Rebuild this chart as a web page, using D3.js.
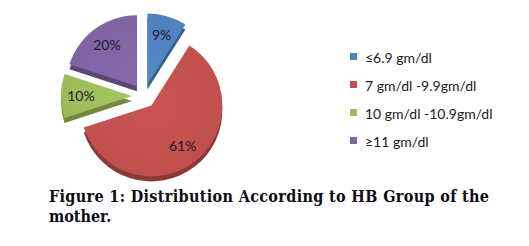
<!DOCTYPE html>
<html>
<head>
<meta charset="utf-8">
<script src="https://cdn.jsdelivr.net/npm/d3@7"></script>
<style>
  body { margin: 0; background: #fff; }
</style>
</head>
<body>
<svg id="chart" width="529" height="246"></svg>
<script>
var categories = ['\u22646.9 gm/dl', '7 gm/dl -9.9gm/dl', '10 gm/dl -10.9gm/dl', '\u226511 gm/dl'];
var values = [9, 61, 10, 20];
var colors = ['#4f81bd', '#c0504d', '#9bbb59', '#8064a2'];
var darkColors = ['#385d8a', '#8c3836', '#71893f', '#5c4776'];

var svg = d3.select('#chart');
var cx = 144, cy = 96, radius = 71, explode = 12;

var pie = d3.pie().sort(null).value(function(d) { return d; });
var arcs = pie(values);

var arc = d3.arc().innerRadius(0).outerRadius(radius);
var labelArc = d3.arc().innerRadius(radius * 0.72).outerRadius(radius * 0.72);

function offset(d) {
  var a = (d.startAngle + d.endAngle) / 2;
  return [Math.sin(a) * explode, -Math.cos(a) * explode];
}

var defs = svg.append('defs');
colors.forEach(function(c, i) {
  var g = defs.append('radialGradient')
    .attr('id', 'grad' + i)
    .attr('gradientUnits', 'userSpaceOnUse')
    .attr('cx', 0).attr('cy', 0).attr('r', radius);
  g.append('stop').attr('offset', '0%').attr('stop-color', d3.color(c).brighter(0.15));
  g.append('stop').attr('offset', '100%').attr('stop-color', c);
});

var pieGroup = svg.append('g')
  .attr('transform', 'translate(' + cx + ',' + cy + ')');

// side / depth of the slices
pieGroup.selectAll('path.depth')
  .data(arcs)
  .enter()
  .append('path')
    .attr('class', 'depth')
    .attr('d', arc)
    .attr('fill', function(d, i) { return darkColors[i]; })
    .attr('transform', function(d) {
      var o = offset(d);
      return 'translate(' + o[0] + ',' + (o[1] + 5) + ')';
    });

pieGroup.selectAll('path.slice')
  .data(arcs)
  .enter()
  .append('path')
    .attr('class', 'slice')
    .attr('d', arc)
    .attr('fill', function(d, i) { return 'url(#grad' + i + ')'; })
    .attr('transform', function(d) {
      var o = offset(d);
      return 'translate(' + o[0] + ',' + o[1] + ')';
    });

pieGroup.selectAll('text.pct')
  .data(arcs)
  .enter()
  .append('text')
    .attr('class', 'pct')
    .attr('transform', function(d) {
      var o = offset(d);
      var c = labelArc.centroid(d);
      return 'translate(' + (c[0] + o[0]) + ',' + (c[1] + o[1]) + ')';
    })
    .attr('text-anchor', 'middle')
    .attr('dy', '0.35em')
    .attr('font-family', 'Lato, "Open Sans", sans-serif')
    .attr('font-size', 14)
    .attr('fill', '#1b1b2e')
    .text(function(d) { return d.data + '%'; });

// legend
var legend = svg.append('g')
  .attr('transform', 'translate(350,58)');

var legendY = d3.scaleLinear().domain([0, 3]).range([0, 84]);

legend.selectAll('rect')
  .data(categories)
  .enter()
  .append('rect')
    .attr('x', 0)
    .attr('y', function(d, i) { return legendY(i) - 5; })
    .attr('width', 7)
    .attr('height', 7)
    .attr('fill', function(d, i) { return colors[i]; });

legend.selectAll('text')
  .data(categories)
  .enter()
  .append('text')
    .attr('x', 15)
    .attr('y', function(d, i) { return legendY(i); })
    .attr('dy', '0.35em')
    .attr('font-family', 'Lato, "Open Sans", sans-serif')
    .attr('font-size', 14)
    .attr('fill', '#1a1a1a')
    .text(function(d) { return d; });

// caption
svg.append('text')
  .attr('x', 49)
  .attr('y', 202)
  .attr('textLength', 440)
  .attr('lengthAdjust', 'spacing')
  .attr('font-family', '"DejaVu Serif Condensed", "DejaVu Serif", serif')
  .attr('font-stretch', 'condensed')
  .attr('font-weight', 'bold')
  .attr('font-size', 16)
  .attr('fill', '#0a0a14')
  .text('Figure 1: Distribution According to HB Group of the');

svg.append('text')
  .attr('x', 49)
  .attr('y', 222)
  .attr('font-family', '"DejaVu Serif Condensed", "DejaVu Serif", serif')
  .attr('font-stretch', 'condensed')
  .attr('font-weight', 'bold')
  .attr('font-size', 16)
  .attr('fill', '#0a0a14')
  .text('mother.');
</script>
</body>
</html>
